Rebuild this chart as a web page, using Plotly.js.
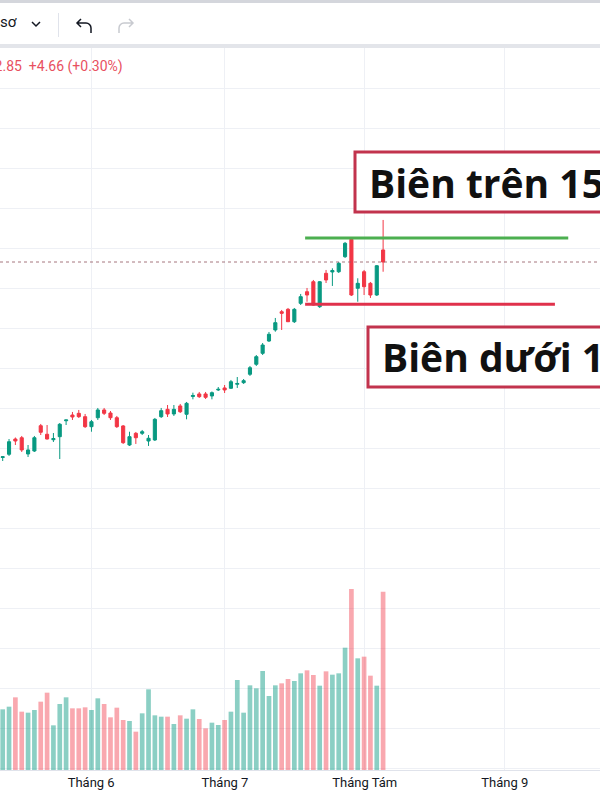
<!DOCTYPE html>
<html>
<head>
<meta charset="utf-8">
<script src="https://cdn.plot.ly/plotly-3.0.1.min.js"></script>
<style>
  html, body { margin: 0; padding: 0; background: #ffffff; width: 600px; height: 800px; overflow: hidden; }
  #toolbar { position: absolute; left: 0; top: 0; width: 600px; height: 48px; box-sizing: border-box;
             border-top: 3px solid #d4d6dc; border-bottom: 4px solid #e3e5ea; background: #fff; }
  #toolbar .label { position: absolute; left: 0px; top: 10px; font: 15px Roboto, sans-serif; color: #131722; }
  #toolbar svg { position: absolute; }
  #chart { position: absolute; left: 0; top: 48px; width: 600px; height: 752px; }
</style>
</head>
<body>
<div id="toolbar">
  <span class="label">sơ</span>
  <svg style="left:30px;top:16px" width="12" height="10" viewBox="0 0 12 10">
    <path d="M2 3 L6 7 L10 3" fill="none" stroke="#131722" stroke-width="1.5"/>
  </svg>
  <svg style="left:58px;top:10px" width="2" height="24"><rect x="0" y="0" width="1" height="24" fill="#e0e3eb"/></svg>
  <svg style="left:74px;top:12px" width="22" height="22" viewBox="0 0 22 22">
    <path d="M7 4 L3 8 L7 12 M3 8 H12 A5 5 0 0 1 17 13 V18" fill="none" stroke="#131722" stroke-width="1.5"/>
  </svg>
  <svg style="left:114px;top:12px" width="22" height="22" viewBox="0 0 22 22">
    <path d="M15 4 L19 8 L15 12 M19 8 H10 A5 5 0 0 0 5 13 V18" fill="none" stroke="#c8cad0" stroke-width="1.5"/>
  </svg>
</div>
<div id="chart"></div>
<script>
// Daily session index (0 = first visible session)
const sessions = Array.from({length: 61}, (_, i) => i);

const opens  = [1288.5,1292.5,1311.6,1313.2,1292.9,1296.6,1328.2,1317.5,1310.7,1314.5,
                1334.4,1341.6,1343.7,1339.5,1327.0,1338.2,1347.9,1344.1,1338.2,1327.9,
                1304.1,1318.7,1318.7,1309.1,1310.4,1339.5,1348.7,1342.9,1352.9,1342.5,
                1364.7,1367.9,1367.9,1365.4,1372.9,1375.4,1375.0,1380.0,1382.0,1392.5,
                1405.0,1418.7,1434.1,1447.9,1470.7,1473.7,1458.2,1481.2,1495.7,1508.2,
                1477.0,1518.7,1520.4,1520.7,1539.5,1561.2,1500.0,1520.7,1506.2,1491.6,
                1547.9];
const highs  = [1289.7,1311.6,1313.5,1315.4,1304.1,1315.4,1330.4,1329.1,1319.1,1331.6,
                1335.4,1345.4,1347.9,1342.9,1335.4,1350.4,1350.4,1346.6,1340.4,1329.1,
                1320.7,1320.4,1322.9,1316.6,1337.9,1350.4,1354.1,1354.1,1355.4,1357.9,
                1369.5,1370.4,1370.4,1371.0,1376.6,1379.1,1385.4,1389.1,1386.6,1402.9,
                1416.6,1431.6,1445.4,1462.9,1472.9,1475.4,1475.4,1492.9,1500.4,1510.4,
                1509.1,1522.9,1525.0,1532.9,1557.9,1564.1,1512.5,1522.9,1507.9,1529.1,
                1585.4];
const lows   = [1284.1,1290.4,1304.1,1295.4,1289.1,1295.4,1316.6,1311.0,1307.9,1286.6,
                1329.1,1335.4,1337.9,1325.4,1320.7,1335.4,1341.6,1335.4,1325.4,1305.4,
                1302.9,1305.4,1316.6,1302.9,1309.1,1337.9,1339.1,1340.4,1344.1,1336.2,
                1361.2,1362.9,1361.6,1361.2,1371.6,1369.1,1374.1,1375.4,1380.4,1390.4,
                1402.9,1416.6,1432.9,1445.7,1447.9,1457.9,1456.6,1479.1,1483.2,1478.5,
                1475.4,1506.6,1502.9,1519.1,1537.9,1490.4,1483.2,1491.6,1487.9,1490.4,
                1520.7];
const closes = [1289.4,1308.2,1309.1,1297.9,1297.9,1313.2,1320.0,1311.6,1312.2,1330.0,
                1335.4,1339.1,1339.5,1327.0,1333.2,1347.9,1343.7,1338.2,1327.0,1307.0,
                1314.5,1313.2,1320.7,1312.5,1336.2,1347.0,1342.9,1348.7,1345.7,1356.2,
                1366.0,1364.5,1363.7,1369.5,1373.7,1372.9,1383.2,1381.0,1384.5,1400.7,
                1414.5,1429.1,1442.5,1457.0,1468.7,1458.2,1473.7,1489.5,1491.6,1479.1,
                1508.2,1510.4,1522.2,1531.2,1556.2,1491.6,1506.2,1502.0,1491.6,1528.19,
                1532.85];
// Volume, million shares
const volumes = [910,950,1090,875,860,900,1025,1160,670,990,
                 1090,925,925,940,900,1075,990,790,935,750,
                 735,575,850,1210,820,800,800,690,820,770,
                 910,765,625,710,675,750,875,1350,860,1270,
                 1225,1485,1110,1270,1300,1365,1335,1450,1495,1425,
                 1265,1480,1430,1450,1835,2715,1675,1700,1415,1265,
                 2675];

const monthTickPos = [13.95, 35.05, 57.1, 79.2];
const monthLabels  = ['Tháng 6', 'Tháng 7', 'Tháng Tám', 'Tháng 9'];

// Trading range drawn on the chart
const upperBound = 1563;
const lowerBound = 1480;
const rangeStart = 47.7;
const upperEnd = 89.2;
const lowerEnd = 87.1;

const UP = '#089981', DOWN = '#f23645';
const volColors = closes.map((c, i) => c >= opens[i] ? 'rgba(8,153,129,0.47)' : 'rgba(242,54,69,0.43)');

const last = closes[closes.length - 1];
const prev = closes[closes.length - 2];
const chg = last - prev;
const pct = chg / prev * 100;
const legendText = last.toFixed(2) + '  +' + chg.toFixed(2) + ' (+' + pct.toFixed(2) + '%)';

// plot area: page y 48..770, x 0..600
const PLOT_TOP = 48, PLOT_BOTTOM = 770, PLOT_H = PLOT_BOTTOM - PLOT_TOP;
const py = Y => (PLOT_BOTTOM - Y) / PLOT_H;
const px = X => X / 600;

const traces = [
  {
    type: 'bar', x: sessions, y: volumes, yaxis: 'y2',
    marker: {color: volColors, line: {width: 0}},
    hoverinfo: 'skip', showlegend: false
  },
  {
    type: 'candlestick', x: sessions, open: opens, high: highs, low: lows, close: closes,
    increasing: {line: {color: UP, width: 1}, fillcolor: UP},
    decreasing: {line: {color: DOWN, width: 1}, fillcolor: DOWN},
    whiskerwidth: 0, hoverinfo: 'skip', showlegend: false
  }
];

const layout = {
  width: 600, height: 752,
  margin: {l: 0, r: 0, t: 0, b: 30},
  paper_bgcolor: '#ffffff', plot_bgcolor: '#ffffff',
  showlegend: false,
  bargap: 0.26,
  xaxis: {
    range: [-0.426, 94.21], rangeslider: {visible: false},
    tickvals: monthTickPos, ticktext: monthLabels,
    ticks: '', showgrid: true, gridcolor: '#eef0f5', zeroline: false,
    showline: true, linecolor: '#e0e3eb', linewidth: 1,
    tickfont: {family: 'Roboto, sans-serif', size: 13, color: '#131722'},
    fixedrange: true
  },
  yaxis: {
    range: [897.85, 1800.35], dtick: 50, tick0: 0,
    showticklabels: false, showgrid: true, gridcolor: '#eef0f5', zeroline: false,
    fixedrange: true
  },
  yaxis2: {
    overlaying: 'y', range: [0, 10830],
    showticklabels: false, showgrid: false, zeroline: false, fixedrange: true
  },
  shapes: [
    {type: 'line', xref: 'paper', x0: 0, x1: 1, yref: 'y', y0: last, y1: last,
     line: {color: 'rgba(150,95,105,0.85)', width: 1, dash: 'dot'}},
    {type: 'line', xref: 'x', yref: 'y', x0: rangeStart, x1: upperEnd, y0: upperBound, y1: upperBound,
     line: {color: '#4caf50', width: 3}},
    {type: 'line', xref: 'x', yref: 'y', x0: rangeStart, x1: lowerEnd, y0: lowerBound, y1: lowerBound,
     line: {color: '#e0314b', width: 3}},
    {type: 'rect', xref: 'paper', yref: 'paper', x0: px(355), x1: px(640), y0: py(212), y1: py(152),
     fillcolor: '#ffffff', line: {color: '#c2334d', width: 3}},
    {type: 'rect', xref: 'paper', yref: 'paper', x0: px(368), x1: px(640), y0: py(387), y1: py(327),
     fillcolor: '#ffffff', line: {color: '#c2334d', width: 3}}
  ],
  annotations: [
    {xref: 'paper', yref: 'paper', x: px(125), y: py(66.7), xanchor: 'right', yanchor: 'middle',
     text: legendText, showarrow: false,
     font: {family: 'Roboto, sans-serif', size: 14, color: '#e8505f'}},
    {xref: 'paper', yref: 'paper', x: px(367), y: py(182), xanchor: 'left', yanchor: 'middle',
     text: '<b>Biên trên ' + upperBound + '</b>', showarrow: false,
     font: {family: 'Open Sans, sans-serif', size: 39, color: '#111111'}},
    {xref: 'paper', yref: 'paper', x: px(380), y: py(356), xanchor: 'left', yanchor: 'middle',
     text: '<b>Biên dưới ' + lowerBound + '</b>', showarrow: false,
     font: {family: 'Open Sans, sans-serif', size: 39, color: '#111111'}}
  ]
};

Plotly.newPlot('chart', traces, layout, {staticPlot: true, displayModeBar: false});
</script>
</body>
</html>
